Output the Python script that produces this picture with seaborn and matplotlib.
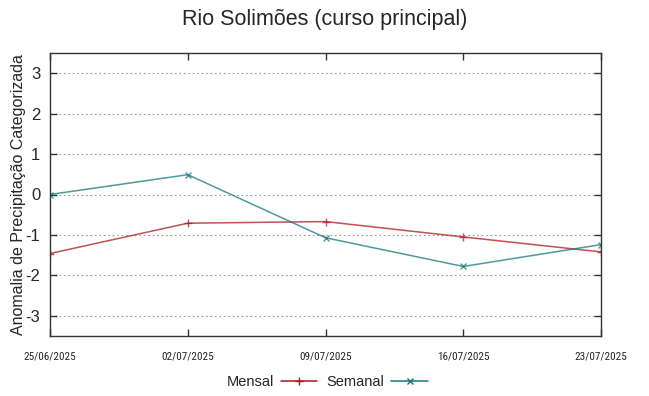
import matplotlib
matplotlib.use("Agg")
import matplotlib.pyplot as plt
import seaborn as sns
import pandas as pd
import numpy as np
from matplotlib import font_manager

dates = ["25/06/2025", "02/07/2025", "09/07/2025", "16/07/2025", "23/07/2025"]
mensal = [-1.46, -0.71, -0.67, -1.05, -1.42]
semanal = [0.0, 0.49, -1.07, -1.78, -1.24]
yticks = [-3, -2, -1, 0, 1, 2, 3]

sns.set_style("white")
plt.rcParams['font.family'] = ['Liberation Sans', 'DejaVu Sans']

names = {f.name for f in font_manager.fontManager.ttflist}
narrow, nsize = None, 7.2
for cand, sz in [('Liberation Sans Narrow', 8.2), ('DejaVu Sans Condensed', 7.0),
                 ('Roboto Condensed', 8.0), ('Open Sans Condensed', 8.0)]:
    if cand in names:
        narrow, nsize = cand, sz
        break

x = pd.to_datetime(dates, format="%d/%m/%Y")
df = pd.DataFrame({"x": list(x) * 2,
                   "y": mensal + semanal,
                   "serie": ["Mensal"] * len(dates) + ["Semanal"] * len(dates)})

fig = plt.figure(figsize=(6.49, 3.96), dpi=100)
ax = fig.add_axes([50/649, 1 - 336/396, (601-50)/649, (336-53)/396])

colors = {"Mensal": "#a8181c", "Semanal": "#137878"}
markers = {"Mensal": "+", "Semanal": "x"}
msize = {"Mensal": 5.5, "Semanal": 4.5}
for s in ["Mensal", "Semanal"]:
    sub = df[df.serie == s]
    sns.lineplot(data=sub, x="x", y="y", ax=ax, color=colors[s], marker=markers[s],
                 markersize=msize[s], markeredgewidth=1.0, markeredgecolor=colors[s],
                 linewidth=1.1, label=s, alpha=0.75)

ax.set_xlim(x[0], x[-1])
ax.set_ylim(-3.5, 3.5)
ax.set_xticks(x)
if narrow:
    ax.set_xticklabels(dates, fontsize=nsize, family=narrow)
else:
    ax.set_xticklabels(dates, fontsize=nsize)
ax.set_yticks(yticks)
ax.set_yticklabels([str(v) for v in yticks], fontsize=12)
ax.yaxis.grid(True, linestyle=(0, (1.5, 2.5)), color="#999999", linewidth=0.8)
ax.xaxis.grid(False)
ax.tick_params(axis="both", direction="in", length=5, width=1, color="#333333",
               top=True, right=True, bottom=True, left=True, pad=7)
ax.tick_params(axis="x", pad=11)
for sp in ax.spines.values():
    sp.set_visible(True)
    sp.set_color("#333333")
    sp.set_linewidth(1.0)
ax.set_xlabel("")
ax.set_ylabel("Anomalia de Precipitação Categorizada", fontsize=11.5)
ax.yaxis.set_label_coords(-24/551, 0.5)

fig.suptitle("Rio Solimões (curso principal)", fontsize=15.5, y=1 - 19/396, va="center")

leg = ax.legend(loc="center", bbox_to_anchor=(327/649, 1 - 382/396), bbox_transform=fig.transFigure,
                ncol=2, frameon=False, markerfirst=False, fontsize=10.5, handlelength=2.5,
                columnspacing=0.6, handletextpad=0.5)
for h in leg.legend_handles:
    h.set_alpha(1.0)

fig.savefig("out.png", dpi=100)
